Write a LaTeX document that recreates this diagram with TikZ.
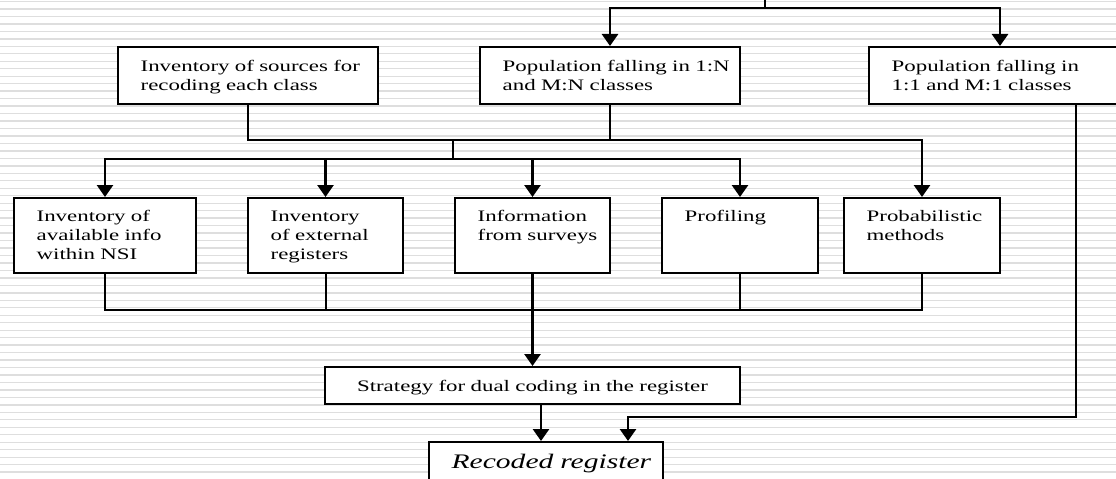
\documentclass[tikz,border=0pt]{standalone}
\usepackage{fontspec}
\setmainfont{Liberation Serif}[FakeStretch=1.43]
\usetikzlibrary{arrows.meta}

\tikzset{
  box/.style={draw, line width=1.5pt, fill=white, anchor=north west, inner sep=0pt,
    font=\fontsize{12}{14.4}\selectfont},
  lbox/.style={box, text width=#1,
    execute at begin node={\leftskip=17pt\rightskip=0pt plus 1fil\relax}},
  upper/.style={text height=18.5pt, text depth=24.25pt},
  lower/.style={text height=17.25pt, text depth=39pt},
  link/.style={line width=1.5pt},
  arr/.style={line width=2pt, -{Triangle[width=12pt,length=9pt]}},
  stripe/.style={line width=1pt, black!13}
}

\begin{document}
\begin{tikzpicture}[x=0.75pt, y=-0.75pt]
  \useasboundingbox (0,0) rectangle (1116,478);
  \fill[white] (0,0) rectangle (1116,478);
  \foreach \k in {0,...,63}
    \draw[stripe] (0,{1.5+7.47*\k}) -- (1116,{1.5+7.47*\k});

  % first level
  \node[lbox=195pt, upper] (srcinv) at (117,46) {Inventory of sources for\\recoding each class};
  \node[lbox=195pt, upper] (pop1n) at (479,46) {Population falling in 1:N\\and M:N classes};
  \node[lbox=196.5pt, upper] (pop11) at (868,46) {Population falling in\\1:1 and M:1 classes};

  % second level
  \node[lbox=136.5pt, lower] (inv) at (13,197) {Inventory of\\available info\\within NSI};
  \node[lbox=116.25pt, lower] (ext) at (247,197) {Inventory\\of external\\registers};
  \node[lbox=116.25pt, lower] (surv) at (454,197) {Information\\from surveys};
  \node[lbox=117pt, lower] (prof) at (661,197) {Profiling};
  \node[lbox=117pt, lower] (prob) at (843,197) {Probabilistic\\methods};

  \node[box, text width=311.25pt, align=center, text height=18pt, text depth=9.75pt]
    (strat) at (324,366) {Strategy for dual coding in the register};
  \node[lbox=175.5pt, text height=19.5pt, text depth=15pt,
    font=\fontsize{15.5}{18}\selectfont\itshape] (rec) at (428,441) {Recoded register};

  \coordinate (top) at (765,-2);
  \coordinate (split) at (765,8);
  \coordinate (bus1) at (453,140);
  \coordinate (bus2) at (453,159);
  \coordinate (merge) at (531.5,310);
  \coordinate (turn) at (1076,417);

  \draw[arr] (top) -- (split) -| (pop1n.north);
  \draw[arr] (split) -| (pop11.north);

  \draw[link] (srcinv.south) |- (bus1);
  \draw[link] (pop1n.south) -- (pop1n.south |- bus1);
  \draw[arr] (bus1) -| (prob.north);
  \draw[link] (bus1) -- (bus2);
  \foreach \n in {inv,ext,surv,prof}
    \draw[arr] (bus2) -| (\n.north);

  \foreach \n in {inv,ext,prof,prob}
    \draw[link] (\n.south) |- (merge);
  \draw[arr] (surv.south) -- (strat.north);

  \draw[arr] ([xshift=6.375pt]strat.south) -- ([xshift=-3.75pt]rec.north);
  \draw[arr] (pop11.south -| turn) -- (turn) -| ([xshift=61.5pt]rec.north);
\end{tikzpicture}
\end{document}
